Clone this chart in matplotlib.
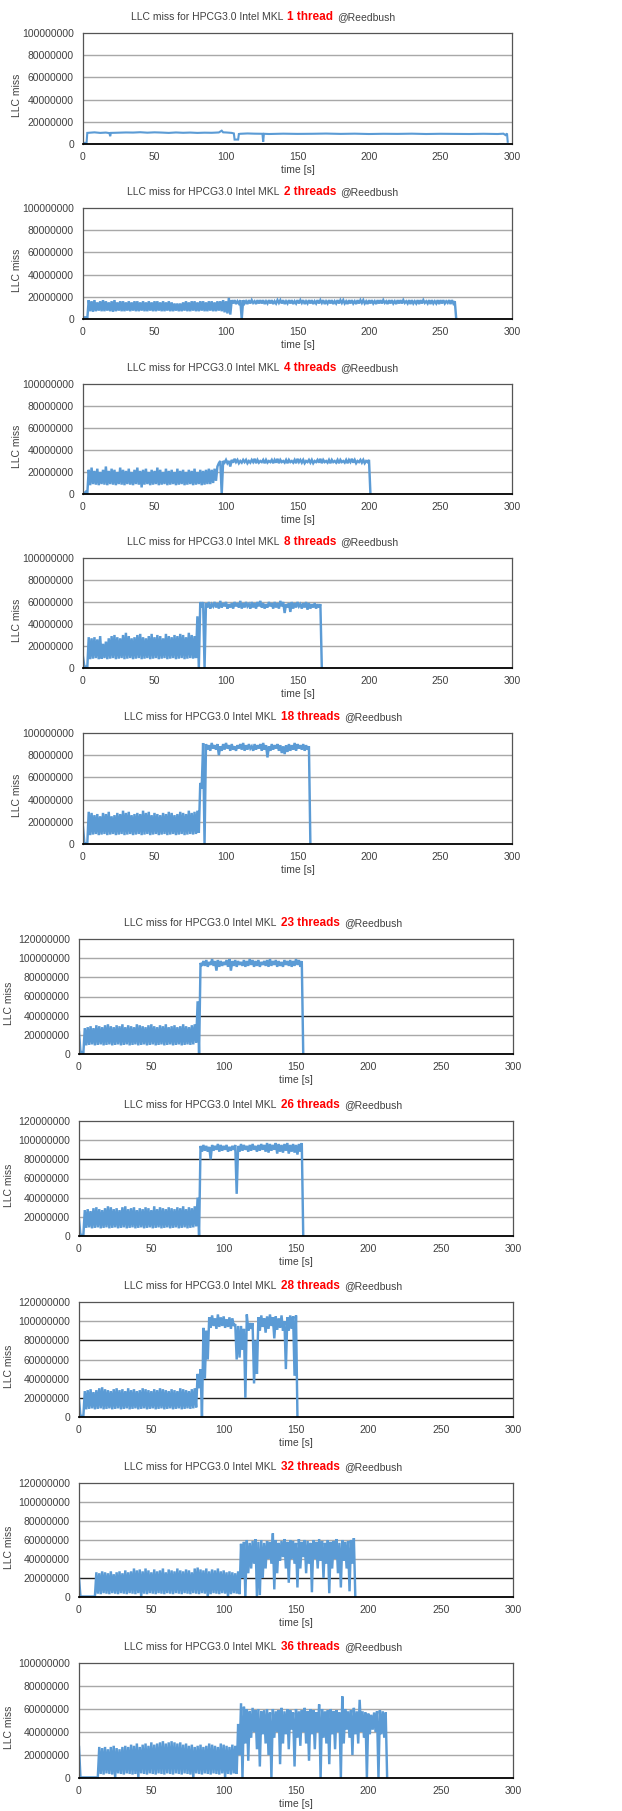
import numpy as np
import matplotlib
matplotlib.use("Agg")
import matplotlib.pyplot as plt
from matplotlib.offsetbox import TextArea, HPacker, AnchoredOffsetbox

plt.rcParams['font.family'] = ['Liberation Sans', 'DejaVu Sans']

# values in millions of LLC misses
threads = [1, 2, 4, 8, 18, 23, 26, 28, 32, 36]
ymax = [100, 100, 100, 100, 100, 120, 120, 120, 120, 100]
dark_grid = [[], [], [], [], [], [40], [80], [80, 40, 20], [20], []]

# 1 thread: plain line (time, value)
t1 = [0, 2.5, 3, 8, 12, 16, 18.5, 19, 19.5, 25, 30, 35, 40, 45, 50, 55, 60, 65, 70, 75,
      80, 85, 90, 95, 97, 98, 100, 104, 105.5, 106, 108.5, 109, 110, 115, 120, 125.5, 126, 126.5, 130, 140,
      150, 160, 170, 180, 190, 200, 210, 220, 230, 240, 250, 260, 270, 280, 290, 294, 295.5, 296.5, 297]
v1 = [1, 1, 10, 10.5, 10, 10.3, 9.8, 7, 10, 10.2, 10.4, 10.3, 10.6, 10.2, 10.5, 10.3, 10, 10.4, 10.1, 10.3,
      10, 10.2, 10.1, 10.4, 12, 10.5, 10.4, 10, 9.5, 4, 4, 9, 9.2, 9.5, 9.3, 9.2, 2, 9.2, 9, 9.3,
      9.1, 9.2, 9.4, 9.1, 9.3, 9, 9.2, 9.1, 9.3, 9, 9.2, 9.1, 9, 9.2, 9, 9.3, 8, 9.5, 2]

# other runs: peaks (at t = 2i) and troughs (at t = 2i + 1)
hi2 = [1.5, 1.5,
       17, 16, 17, 15, 16, 17, 16, 15, 16, 17, 15, 16, 16, 15, 16, 15, 16, 16, 15, 16,
       15, 16, 15, 16, 16, 15, 16, 15, 16, 15, 14, 14, 14, 15, 16, 15, 16, 16, 15, 16,
       16, 15, 16, 16, 15, 16, 16, 17, 16, 19,
       17, 17, 16, 17, 17, 16, 17, 17, 16, 17, 17, 17, 16, 17, 17, 16, 17, 17, 17, 16,
       17, 17, 16, 17, 17, 17, 16, 17, 17, 16, 17, 17, 17, 16, 17, 17, 16, 17, 17, 17,
       16, 17, 17, 16, 17, 17, 17, 16, 17, 17, 16, 17, 17, 17, 16, 17, 17, 16, 17, 17,
       17, 16, 17, 17, 16, 17, 17, 17, 16, 17, 17, 16, 17, 17, 17, 16, 17, 17, 16]
lo2 = [1.5, 0.3,
       7, 6.5, 7, 7.5, 7, 7, 7.5, 7, 6.5, 7, 7.5, 7, 7, 7.5, 7, 7.5, 7, 7, 7.5, 7,
       7, 7.5, 7, 7, 7.5, 7, 7, 7.5, 7, 7, 7.5, 7, 7, 7.5, 7, 7, 7.5, 7, 7, 7.5,
       7, 7, 7.5, 7, 7, 7.5, 7, 6, 5, 4,
       14, 13.5, 14, 0, 14, 13.5, 14, 14.5, 13.5, 14, 14, 13.5, 14, 14, 13.5, 14, 14.5, 14, 13.5, 14,
       14, 13.5, 14, 14, 14.5, 13.5, 14, 14, 13.5, 14, 14, 14.5, 13.5, 14, 14, 13.5, 14, 14, 14.5, 14,
       13.5, 14, 14, 13.5, 14, 14.5, 14, 13.5, 14, 14, 13.5, 14, 14, 14.5, 13.5, 14, 14, 13.5, 14, 14,
       14.5, 14, 13.5, 14, 14, 13.5, 14, 14.5, 14, 13.5, 14, 14, 13.5, 14, 14, 14.5, 13.5, 14, 0]

hi3 = [2, 2,
       22, 24, 21, 23, 20, 22, 25, 21, 23, 22, 20, 24, 22, 21, 23, 20, 22, 24, 21, 22,
       23, 20, 22, 21, 24, 22, 20, 23, 21, 22, 20, 23, 21, 22, 20, 22, 21, 23, 20, 22,
       21, 22, 23, 22, 23,
       25, 30,
       30, 31, 30, 31, 32, 31, 30, 31, 31, 30, 31, 32, 31, 30, 31, 31, 30, 31, 31, 32,
       31, 30, 31, 31, 30, 31, 32, 31, 31, 30, 31, 31, 30, 31, 32, 31, 30, 31, 31, 30,
       31, 31, 30, 31, 31, 32, 31, 30, 31, 31, 30, 31]
lo3 = [0.5, 0,
       8, 9, 8.5, 8, 9, 8.5, 8, 9, 8.5, 8, 9, 8.5, 8, 9, 8.5, 8, 9, 8.5, 6, 8.5,
       9, 8, 8.5, 9, 8, 8.5, 9, 8, 8.5, 9, 8, 8.5, 9, 8, 8.5, 9, 8, 8.5, 9, 8,
       8.5, 9, 9, 10, 12,
       28, 0,
       28.5, 28, 25, 28.5, 29, 28, 28.5, 29, 28, 28.5, 29, 28, 28.5, 29, 28, 28.5, 29, 28, 28.5, 28,
       29, 28.5, 28, 29, 28.5, 28, 29, 28.5, 28, 29, 28.5, 28, 29, 28.5, 28, 29, 28.5, 28, 29, 28.5,
       28, 29, 28.5, 28, 29, 28.5, 28, 29, 28.5, 28, 29, 0]

hi4 = [10, 1,
       28, 27, 28, 26, 29, 22, 24, 27, 29, 30, 28, 27, 30, 32, 29, 27, 28, 30, 31, 28,
       27, 29, 31, 28, 30, 29, 27, 31, 29, 28, 30, 29, 31, 30, 28, 32, 30, 29, 47,
       60, 60,
       59, 60, 58, 60, 59, 61, 59, 60, 58, 59, 60, 59, 61, 59, 60, 58, 60, 59, 60, 61,
       59, 58, 60, 59, 60, 59, 61, 60, 58, 59, 60, 59, 60, 58, 59, 60, 59, 58, 59, 58, 58]
lo4 = [1, 0,
       8, 8.5, 9, 8, 8.5, 9, 8, 8.5, 9, 8, 8.5, 9, 8, 8.5, 9, 8, 8.5, 9, 8, 8.5,
       9, 8, 8.5, 9, 8, 8.5, 9, 8, 8.5, 9, 8, 8.5, 9, 8, 8.5, 9, 8.5, 9, 0,
       55, 0,
       55, 54, 56, 55, 54, 55, 56, 54, 55, 54, 56, 55, 54, 55, 56, 54, 55, 54, 56, 55,
       54, 55, 56, 54, 55, 54, 56, 50, 55, 51, 54, 55, 56, 54, 55, 53, 54, 55, 54, 55, 0]

hi5 = [15, 0.5,
       29, 28, 26, 27, 25, 28, 27, 29, 25, 26, 28, 27, 30, 28, 29, 26, 27, 28, 27, 30,
       28, 29, 26, 28, 27, 26, 28, 27, 29, 28, 26, 27, 29, 28, 27, 30, 28, 29, 30,
       55, 91,
       90, 89, 91, 89, 90, 88, 90, 91, 89, 90, 88, 89, 90, 91, 89, 90, 88, 90, 89, 90,
       91, 89, 88, 90, 89, 90, 89, 88, 89, 90, 89, 91, 90, 89, 90, 89, 88]
lo5 = [0.5, 0,
       8, 8.5, 9, 8, 8.5, 9, 8, 8.5, 9, 8, 8.5, 9, 8, 8.5, 9, 8, 8.5, 9, 8, 8.5,
       9, 8, 8.5, 9, 8, 8.5, 9, 8, 8.5, 9, 8, 8.5, 9, 8, 8.5, 9, 8.5, 9, 10,
       50, 0,
       85, 84, 86, 85, 80, 84, 85, 86, 84, 85, 84, 86, 85, 84, 85, 86, 84, 85, 86, 84,
       85, 78, 84, 85, 86, 84, 82, 81, 83, 84, 85, 84, 86, 85, 84, 85, 0]

hi6 = [23, 2,
       27, 28, 29, 27, 30, 29, 28, 30, 31, 29, 28, 30, 29, 31, 28, 30, 29, 28, 31, 30,
       29, 28, 30, 31, 29, 28, 30, 29, 31, 28, 29, 30, 28, 29, 31, 29, 28, 30, 31,
       55, 95,
       97, 98, 96, 99, 97, 98, 97, 96, 98, 99, 97, 98, 97, 96, 98, 97, 99, 98, 97, 98,
       96, 97, 98, 99, 97, 98, 97, 96, 98, 97, 98, 97, 99, 98, 97]
lo6 = [2, 0.5,
       9, 9.5, 10, 9, 9.5, 10, 9, 9.5, 10, 9, 9.5, 10, 9, 9.5, 10, 9, 9.5, 10, 9, 9.5,
       10, 9, 9.5, 10, 9, 9.5, 10, 9, 9.5, 10, 9, 9.5, 10, 9, 9.5, 10, 9.5, 10, 12,
       0, 92,
       92, 91, 93, 92, 87, 91, 92, 93, 91, 87, 92, 91, 93, 92, 91, 92, 93, 91, 92, 91,
       93, 92, 91, 92, 93, 91, 92, 91, 93, 92, 91, 92, 93, 91, 0]

hi7 = [17, 1,
       27, 28, 26, 29, 30, 28, 27, 29, 31, 30, 28, 29, 27, 30, 31, 28, 29, 30, 27, 29,
       28, 30, 29, 27, 31, 28, 30, 29, 28, 30, 29, 28, 30, 29, 31, 28, 30, 29, 31,
       40, 94,
       95, 94, 93, 95, 94, 96, 95, 94, 95, 93, 94, 95, 94, 96, 95, 94, 95, 96, 94, 95,
       96, 95, 97, 96, 95, 97, 96, 95, 96, 97, 95, 96, 95, 96, 97]
lo7 = [1, 0.5,
       8.5, 9, 8, 8.5, 9, 8, 8.5, 9, 8, 8.5, 9, 8, 8.5, 9, 8, 8.5, 9, 8, 8.5, 9,
       8, 8.5, 9, 8, 8.5, 9, 8, 8.5, 9, 8, 8.5, 9, 8, 8.5, 9, 8, 8.5, 9, 10,
       0, 88,
       89, 88, 80, 89, 90, 88, 89, 90, 88, 89, 90, 44, 88, 89, 90, 88, 89, 90, 88, 89,
       90, 88, 87, 89, 90, 86, 88, 87, 89, 86, 88, 87, 85, 88, 0]

hi8 = [18, 1,
       27, 28, 29, 26, 28, 30, 31, 29, 28, 27, 29, 30, 28, 29, 27, 30, 28, 29, 27, 28,
       30, 29, 28, 27, 29, 28, 30, 29, 28, 27, 29, 28, 27, 30, 29, 28, 27, 29, 30,
       45, 50, 93, 90,
       104, 106, 103, 107, 104, 105, 102, 104, 103,
       97, 95, 95, 92, 107, 98, 98, 80,
       104, 106, 103, 105, 107, 104, 105, 103, 106,
       100, 104, 106, 105, 106]
lo8 = [1, 0.5,
       8, 8.5, 9, 8, 8.5, 9, 8, 8.5, 9, 8, 8.5, 9, 8, 8.5, 9, 8, 8.5, 9, 8, 8.5,
       9, 8, 8.5, 9, 8, 8.5, 9, 8, 8.5, 9, 8, 8.5, 9, 8, 8.5, 9, 8.5, 9, 10,
       30, 0, 40, 60,
       93, 95, 92, 94, 95, 93, 94, 92, 95,
       60, 62, 70, 20, 90, 92, 35, 45,
       90, 94, 88, 92, 95, 82, 91, 93, 90,
       50, 90, 92, 43, 0]

hi9 = [20, 0.5, 0.5, 0.5, 0.5, 0.5,
       26, 25, 27, 26, 25, 27, 24, 26, 27, 25, 28, 26, 27, 30, 28, 29, 27, 30, 28, 26,
       29, 27, 28, 30, 26, 29, 28, 27, 30, 28, 27, 29, 28, 26, 30, 31, 29, 28, 30, 27,
       29, 28, 30, 27, 28, 26, 27, 26, 25, 27,
       56,
       58, 60, 57, 59, 61, 58, 60, 57, 59, 58, 67, 60, 57, 59, 61, 58, 60, 59, 57, 61,
       58, 60, 59, 57, 60, 58, 61, 59, 57, 60, 58, 59, 61, 57, 60, 58, 59, 60, 62]
lo9 = [0.5, 0.5, 0.5, 0.5, 0.5, 0.5,
       3.5, 3, 4, 3.5, 3, 4, 3.5, 3, 4, 3.5, 3, 4, 3.5, 3, 4, 0, 3.5, 3, 4, 3.5,
       3, 4, 3.5, 3, 4, 3.5, 3, 4, 3.5, 3, 4, 3.5, 3, 4, 3.5, 3, 4, 3.5, 0, 3,
       4, 3.5, 3, 4, 3.5, 0, 3, 4, 3.5, 3,
       20,
       0, 25, 30, 35, 0, 2, 20, 30, 40, 35, 8, 25, 38, 42, 30, 15, 40, 35, 10, 30,
       42, 25, 35, 5, 40, 30, 38, 20, 35, 4, 30, 40, 25, 10, 38, 30, 6, 35, 0]

hi10 = [27, 0.5, 0.5, 0.5, 0.5, 0.5, 0.5,
        27, 26, 27, 25, 27, 28, 26, 25, 27, 28, 27, 29, 28, 30, 27, 29, 30, 28, 31, 29,
        30, 31, 32, 30, 31, 32, 31, 30, 31, 29, 30, 28, 29, 27, 28, 29, 27, 28, 30, 29,
        28, 27, 30, 29, 28, 27, 29, 28, 47,
        65,
        62, 60, 58, 61, 59, 60, 58, 59, 60, 57, 60, 58, 59, 61, 58, 60, 59, 57, 60, 58,
        59, 61, 58, 60, 59, 57, 64, 60, 58, 59, 60, 58, 59, 57, 71, 60, 58, 59, 61, 58,
        68, 58, 57, 56, 55, 57, 58, 59, 58, 57]
lo10 = [0.5, 0.5, 0.5, 0.5, 0.5, 0.5, 0.5,
        3.5, 3, 4, 3.5, 3, 0, 4, 3.5, 3, 4, 3.5, 3, 3.5, 0, 4, 3.5, 3, 4, 3.5, 3,
        4, 3.5, 3, 4, 3.5, 3, 4, 3.5, 3, 4, 3.5, 3, 0, 4, 3.5, 3, 4, 3.5, 3, 4,
        3.5, 3, 4, 0, 3.5, 3, 4, 3.5, 20,
        0,
        30, 15, 35, 40, 25, 10, 38, 30, 20, 0, 35, 40, 12, 30, 38, 25, 42, 10, 35, 28,
        40, 30, 15, 38, 25, 40, 0, 35, 30, 12, 38, 25, 40, 0, 30, 42, 35, 20, 38, 30,
        40, 35, 0, 38, 42, 40, 0, 38, 35, 0]

peaks = [None, hi2, hi3, hi4, hi5, hi6, hi7, hi8, hi9, hi10]
troughs = [None, lo2, lo3, lo4, lo5, lo6, lo7, lo8, lo9, lo10]

# axes boxes in pixels: left, top, right, bottom
boxes = [(83, 33, 512, 144), (83, 208, 512, 319), (83, 384, 512, 494),
         (83, 558, 512, 668), (83, 733, 512, 844), (79, 939, 513, 1054),
         (79, 1121, 513, 1236), (79, 1302, 513, 1417), (79, 1483, 513, 1597),
         (79, 1663, 513, 1778)]
ylab_x = [17, 17, 17, 17, 17, 10, 10, 10, 10, 10]  # centre of "LLC miss", px

W, H = 622, 1811
fig = plt.figure(figsize=(W / 100, H / 100), dpi=100)
txt = '#404040'
blue = '#5b9bd5'

for k in range(len(threads)):
    l, t, r, b = boxes[k]
    ax = fig.add_axes([l / W, 1 - b / H, (r - l) / W, (b - t) / H])
    if peaks[k] is None:
        x = np.array(t1)
        y = np.array(v1) * 1e6
        lw = 1.5
    else:
        hi = np.array(peaks[k], dtype=float)
        lo = np.array(troughs[k], dtype=float)
        ts = np.arange(len(hi)) * 2.0
        x = np.empty(2 * len(hi))
        y = np.empty(2 * len(hi))
        x[0::2] = ts
        x[1::2] = ts + 1
        y[0::2] = hi * 1e6
        y[1::2] = lo * 1e6
        lw = 1.75
    ax.plot(x, y, color=blue, lw=lw, solid_joinstyle='miter')

    top = ymax[k] * 1e6
    ax.set_xlim(0, 300)
    ax.set_ylim(0, top)
    yt = np.arange(0, ymax[k] + 1, 20) * 1e6
    ax.set_yticks(yt)
    ax.set_yticklabels([str(int(v)) for v in yt])
    ax.set_xticks(range(0, 301, 50))
    ax.tick_params(length=0, labelsize=7.5, labelcolor=txt)
    ax.tick_params(axis='y', pad=6.5)
    ax.tick_params(axis='x', pad=6)
    for v in yt[1:-1]:
        dark = int(round(v / 1e6)) in dark_grid[k]
        ax.axhline(v, color='#222222' if dark else '#a8a8a8', lw=1.0, zorder=0.5)
    for s in ['top', 'left', 'right']:
        ax.spines[s].set_color('#555555')
        ax.spines[s].set_linewidth(0.9)
    ax.spines['bottom'].set_color('black')
    ax.spines['bottom'].set_linewidth(1.3)
    ax.set_xlabel('time [s]', fontsize=7.5, color=txt, labelpad=2)
    ax.set_ylabel('LLC miss', fontsize=7.5, color=txt)
    ax.yaxis.set_label_coords((ylab_x[k] + 4.5 - l) / (r - l), 0.5 - 7 / (b - t))

    n = threads[k]
    word = '%d thread' % n if n == 1 else '%d threads' % n
    parts = [TextArea('LLC miss for HPCG3.0 Intel MKL', textprops=dict(color=txt, size=7.5)),
             TextArea(word, textprops=dict(color='red', size=8.5, weight='bold')),
             TextArea('@Reedbush', textprops=dict(color=txt, size=7.5))]
    box = HPacker(children=parts, align='baseline', pad=0, sep=3)
    anch = AnchoredOffsetbox(loc='center', child=box, pad=0, borderpad=0, frameon=False,
                             bbox_to_anchor=(263 / W, 1 - (t - 16) / H),
                             bbox_transform=fig.transFigure)
    fig.add_artist(anch)

fig.savefig('out.png', dpi=100, facecolor='white')
